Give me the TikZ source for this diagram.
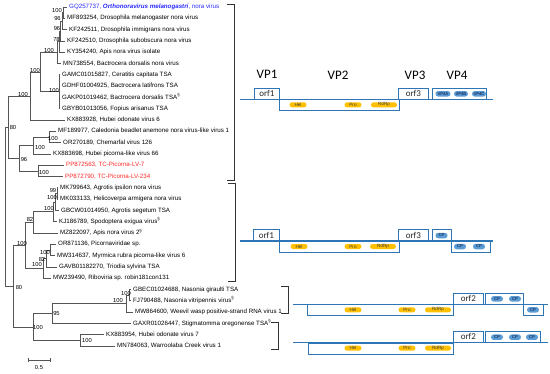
\documentclass[tikz,border=0pt]{standalone}
\usepackage{fontspec}
\setmainfont{Liberation Sans}
\newfontfamily\calibri{Carlito}
\usetikzlibrary{positioning,calc}

\definecolor{treeline}{RGB}{85,85,85}
\definecolor{refblue}{RGB}{40,40,255}
\definecolor{tcred}{RGB}{255,40,40}
\definecolor{genblue}{RGB}{46,117,182}
\definecolor{domyellow}{RGB}{255,192,0}
\definecolor{domblue}{RGB}{91,155,213}
\definecolor{domtext}{RGB}{31,56,100}

\tikzset{
  branch/.style={draw=treeline, line width=0.7pt},
  leaf/.style={anchor=west, inner xsep=2pt, inner ysep=0pt, text height=4.4pt, text depth=1.2pt,
    font=\fontsize{6.2}{7}\selectfont},
  boot/.style={inner sep=0pt, font=\fontsize{5.8}{6}\selectfont},
  clade/.style={draw=black!80, line width=0.8pt},
  genome/.style={draw=genblue, line width=1.2pt},
  orfbox/.style={draw=genblue, line width=0.8pt, minimum height=11pt, inner sep=0pt, text=black!85,
    font=\calibri\fontsize{9}{9}\selectfont},
  vplabel/.style={inner sep=0pt, font=\calibri\fontsize{13}{13}\selectfont},
  yel/.style={fill=domyellow, rounded corners=2.5pt, minimum height=5pt, inner sep=0pt, text=black!75,
    font=\fontsize{4.6}{4.6}\selectfont},
  blu/.style={fill=domblue, rounded corners=2.7pt, minimum height=5.5pt, inner sep=0pt, text=domtext,
    font=\fontsize{4.2}{4.2}\selectfont\bfseries},
}

\begin{document}
\begin{tikzpicture}[x=1pt,y=-1pt]
  \useasboundingbox (0,0) rectangle (550,373);
  % leaves
  \foreach \i/\tip/\txt in {
    1/67/{\color{refblue}GQ257737, \textbf{\textit{Orthonoravirus melanogastri}}, nora virus},
    2/65/{MF893254, Drosophila melanogaster nora virus},
    3/67/{KF242511, Drosophila immigrans nora virus},
    4/65/{KF242510, Drosophila subobscura nora virus},
    5/65/{KY354240, Apis nora virus isolate},
    6/61/{MN738554, Bactrocera dorsalis nora virus},
    7/60/{GAMC01015827, Ceratitis capitata TSA},
    8/60/{GDHF01004925, Bactrocera latifrons TSA},
    9/60/{GAKP01019462, Bactrocera dorsalis TSA\textsuperscript{\S}},
    10/60/{GBYB01013056, Fopius arisanus TSA},
    11/65/{KX883928, Hubei odonate virus 6},
    12/56/{MF189977, Caledonia beadlet anemone nora virus-like virus 1},
    13/61/{OR270189, Chemarfal virus 126},
    14/51/{KX883698, Hubei picorna-like virus 66},
    15/64/{\color{tcred}PP872563, TC-Picorna-LV-7},
    16/63/{\color{tcred}PP872790, TC-Picorna-LV-234},
    17/58/{MK799643, Agrotis ipsilon nora virus},
    18/58/{MK033133, Helicoverpa armigera nora virus},
    19/59/{GBCW01014950, Agrotis segetum TSA},
    20/57/{KJ186789, Spodoptera exigua virus\textsuperscript{\S}},
    21/58/{MZ822097, Apis nora virus 2\textsuperscript{\S}},
    22/56/{OR871136, Picornaviridae sp.},
    23/55/{MW314637, Myrmica rubra picorna-like virus 6},
    24/57/{GAVB01182270, Triodia sylvina TSA},
    25/51/{MW239490, Riboviria sp. robin181con131},
    26/131/{GBEC01024688, Nasonia giraulti TSA},
    27/131/{FJ790488, Nasonia vitripennis virus\textsuperscript{\S}},
    28/133/{MW864600, Weevil wasp positive-strand RNA virus 1},
    29/131/{GAXR01026447, Stigmatomma oregonense TSA\textsuperscript{\S}},
    30/104/{KX883954, Hubei odonate virus 7},
    31/115/{MN784063, Warroolaba Creek virus 1}}
    \node[leaf] (l\i) at (\tip,{7+(\i-1)*11.3}) {\txt};
  % inner nodes
  \foreach \n/\x/\y in {a12/63/12.65, a3/62/21.1, a4/60.5/31, a5/59/41.6, n3/57/52.55,
    n4/59/91.75, n2/40/72.15, n1/30/96.1, b12/49/136.95, b123/33/145.4, b45/38/170.85,
    t/19/158.1, p/8/127.1, c12/57/193.45, c123/55/201.9, c1234/53/211.8, c5/33/222.4,
    d12/50/249.95, d123/46/258.4, d1234/43/268.3, r/25/245.35, e12/129/295.15,
    e3/126/303.6, e/52/313.5, f/80/340.35, s/33/326.9, q/13/286.1, root/5/206.6}
    \coordinate (\n) at (\x,\y);
  % branches
  \foreach \p/\c in {a12/l1, a12/l2, a3/a12, a3/l3, a4/a3, a4/l4, a5/a4, a5/l5, n3/a5, n3/l6,
    n4/l7, n4/l8, n4/l9, n4/l10, n2/n3, n2/n4, n1/n2, n1/l11, b12/l12, b12/l13, b123/b12,
    b123/l14, b45/l15, b45/l16, t/b123, t/b45, p/n1, p/t, c12/l17, c12/l18, c123/c12,
    c123/l19, c1234/c123, c1234/l20, c5/c1234, c5/l21, d12/l22, d12/l23, d123/d12,
    d123/l24, d1234/d123, d1234/l25, r/c5, r/d1234, e12/l26, e12/l27, e3/e12, e3/l28,
    e/e3, e/l29, f/l30, f/l31, s/e, s/f, q/r, q/s, root/p, root/q}
    \draw[branch] (\p) |- (\c);
  % bootstrap values
  \foreach \n/\x/\y/\v in {a12/57/10/100, a3/57.5/18/96, a4/57/28/96, a5/56.5/39/78,
    n3/49/50/100, n4/54/90/100, n2/35/70/100, n1/23/94/100, p/13/127/80, b12/53/138/100,
    b123/40/147/100, b45/44/172/100, t/24/159/96, c12/53/190/99, c123/52/197/100,
    c1234/49/208/100, c5/30/219/82, d12/45/252/100, d123/42/259/82, d1234/37/264/100,
    r/22/243/100, q/19/287/80, e12/126/293/100, e3/118/300/100, e/56.5/313/95,
    s/38/327/100, f/87/340/100}
    \node[boot] (bs\n) at (\x,\y) {\v};
  % scale bar
  \coordinate (sb1) at (28,360);
  \coordinate (sb2) at (50,360);
  \draw[branch] (sb1) -- (sb2);
  \draw[branch] ($(sb1)+(0,-2)$) -- ($(sb1)+(0,2)$);
  \draw[branch] ($(sb2)+(0,-2)$) -- ($(sb2)+(0,2)$);
  \node[boot] (sblab) at (39,367) {0.5};
  % brackets
  \draw[clade] (227,4) -- (234,4) -- (234,180) -- (227,180);
  \draw[clade] (228,183) -- (235,183) -- (235,281) -- (228,281);
  \draw[clade] (281,286) -- (288,286) -- (288,313) -- (281,313);
  \draw[clade] (271,322) -- (278,322) -- (278,349) -- (271,349);
  % VP labels
  \node[vplabel] (vp1) at (267,74) {VP1};
  \node[vplabel] (vp2) at (338,75) {VP2};
  \node[vplabel] (vp3) at (415,75) {VP3};
  \node[vplabel] (vp4) at (457,75) {VP4};
  % genome 1
  \begin{scope}[shift={(0,99.3)}]
    \draw[genome] (240,0) -- (493,0);
    \node[orfbox, minimum width=25pt, anchor=south west] (orf1a) at (254,0) {orf1};
    \node[orfbox, minimum width=120pt, anchor=north west] (orf2a) at (279,0) {};
    \node[yel, minimum width=17pt] (hela) at (298,5.5) {Hel};
    \node[yel, minimum width=17pt] (proa) at (353,5.5) {Pro};
    \node[yel, minimum width=26pt] (rdrpa) at (384,5.5) {RdRp};
    \node[orfbox, minimum width=30pt, anchor=south west] (orf3a) at (398,0) {orf3};
    \node[orfbox, minimum width=54pt, anchor=south west] (orf4a) at (432,0) {};
    \node[blu, minimum width=15pt] (vp4a) at (443,-5.5) {VP4A};
    \node[blu, minimum width=14pt] (vp4b) at (461,-5.5) {VP4B};
    \node[blu, minimum width=14pt] (vp4c) at (479,-5.5) {VP4C};
  \end{scope}
  % genome 2
  \begin{scope}[shift={(0,241)}]
    \draw[genome] (240,0) -- (493,0);
    \node[orfbox, minimum width=26pt, anchor=south west] (orf1b) at (253,0) {orf1};
    \node[orfbox, minimum width=120pt, anchor=north west] (orf2b) at (279,0) {};
    \node[yel, minimum width=17pt] (helb) at (299,5.5) {Hel};
    \node[yel, minimum width=17pt] (prob) at (353,5.5) {Pro};
    \node[yel, minimum width=26pt] (rdrpb) at (383,5.5) {RdRp};
    \node[orfbox, minimum width=30pt, anchor=south west] (orf3b) at (398,0) {orf3};
    \node[orfbox, minimum width=19pt, anchor=south west] (cpupb) at (432,0) {};
    \node[blu, minimum width=12pt] (cpb1) at (441.5,-5.5) {CP};
    \node[orfbox, minimum width=39pt, anchor=north west] (cplowb) at (451,0) {};
    \node[blu, minimum width=12pt] (cpb2) at (460,5.5) {CP};
    \node[blu, minimum width=12pt] (cpb3) at (479,5.5) {CP};
  \end{scope}
  % genome 3
  \begin{scope}[shift={(0,304.3)}]
    \draw[genome] (293,0) -- (548,0);
    \node[orfbox, minimum width=146pt, anchor=north west] (orf1c) at (307,0) {};
    \node[yel, minimum width=17pt] (helc) at (353,5.5) {Hel};
    \node[yel, minimum width=17pt] (proc) at (407,5.5) {Pro};
    \node[yel, minimum width=26pt] (rdrpc) at (438,5.5) {RdRp};
    \node[orfbox, minimum width=30pt, anchor=south west] (orf2c) at (453,0) {orf2};
    \node[orfbox, minimum width=38pt, anchor=south west] (cpupc) at (485,0) {};
    \node[blu, minimum width=12pt] (cpc1) at (497,-5.5) {CP};
    \node[blu, minimum width=12pt] (cpc2) at (515,-5.5) {CP};
    \node[orfbox, minimum width=20pt, anchor=north west] (cplowc) at (523,0) {};
    \node[blu, minimum width=12pt] (cpc3) at (533,5.5) {CP};
  \end{scope}
  % genome 4
  \begin{scope}[shift={(0,342.7)}]
    \draw[genome] (293,0) -- (548,0);
    \node[orfbox, minimum width=145pt, anchor=north west] (orf1d) at (308,0) {};
    \node[yel, minimum width=17pt] (held) at (353,5.5) {Hel};
    \node[yel, minimum width=17pt] (prod) at (407,5.5) {Pro};
    \node[yel, minimum width=26pt] (rdrpd) at (438,5.5) {RdRp};
    \node[orfbox, minimum width=30pt, anchor=south west] (orf2d) at (453,0) {orf2};
    \node[orfbox, minimum width=55pt, anchor=south west] (cpupd) at (485,0) {};
    \node[blu, minimum width=12pt] (cpd1) at (497,-5.5) {CP};
    \node[blu, minimum width=12pt] (cpd2) at (515,-5.5) {CP};
    \node[blu, minimum width=12pt] (cpd3) at (532,-5.5) {CP};
  \end{scope}
\end{tikzpicture}
\end{document}
